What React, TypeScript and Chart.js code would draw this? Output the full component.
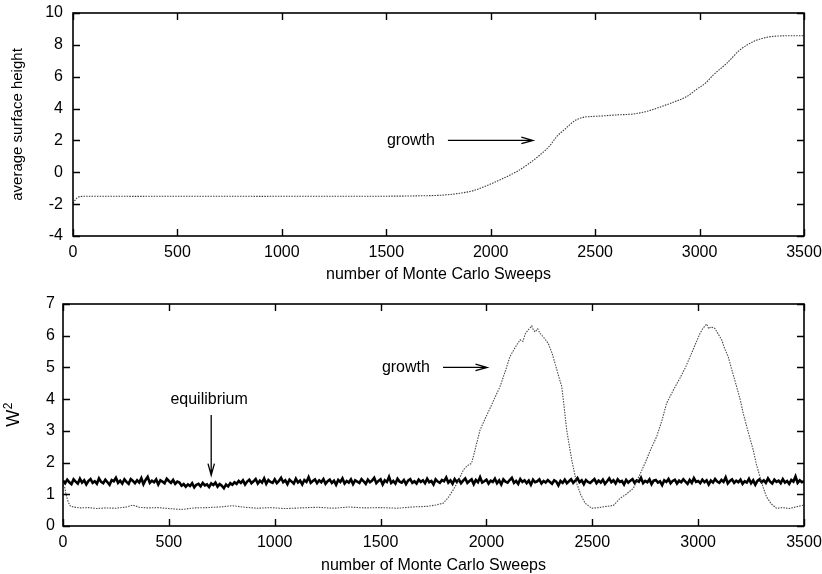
import React, { useEffect, useRef } from "react";
import { Chart, registerables } from "chart.js";

Chart.register(...registerables);

const FONT = "'Liberation Sans', Arial, Helvetica, sans-serif";

// ---- upper panel: average surface height ----
const heightSweeps = [
  0, 10, 20, 35, 100, 300, 500, 700, 900, 1100, 1300, 1500, 1650, 1773, 1850,
  1917, 1997, 2060, 2124, 2180, 2236, 2280, 2316, 2360, 2396, 2436, 2480, 2523,
  2600, 2683, 2740, 2795, 2870, 2938, 2986, 3030, 3066, 3130, 3193, 3257, 3321,
  3385, 3440, 3500,
];
const surfaceHeight = [
  -1.95, -1.75, -1.6, -1.52, -1.5, -1.51, -1.5, -1.5, -1.51, -1.5, -1.5, -1.5,
  -1.48, -1.43, -1.32, -1.15, -0.75, -0.38, 0.04, 0.52, 1.09, 1.62, 2.24, 2.76,
  3.18, 3.43, 3.5, 3.53, 3.6, 3.66, 3.8, 4.02, 4.38, 4.75, 5.21, 5.62, 6.11,
  6.84, 7.68, 8.2, 8.47, 8.56, 8.57, 8.57,
];
const heightTicks = { min: -4, max: 10, step: 2 };

// ---- lower panel: squared interface width ----
const growthSweeps = [
  0, 8, 16, 25, 35, 50, 80, 120, 160, 200, 250, 300, 330, 360, 400, 450, 500,
  560, 620, 680, 740, 800, 860, 920, 980, 1050, 1120, 1200, 1280, 1350, 1420,
  1500, 1580, 1650, 1720, 1760, 1796, 1820, 1843, 1870, 1891, 1910, 1930, 1950,
  1970, 1995, 2017, 2040, 2064, 2090, 2111, 2135, 2159, 2172, 2185, 2200, 2214,
  2222, 2230, 2242, 2253, 2270, 2292, 2310, 2324, 2340, 2356, 2368, 2379, 2391,
  2403, 2415, 2426, 2446, 2466, 2497, 2530, 2568, 2600, 2631, 2660, 2694, 2720,
  2749, 2775, 2804, 2830, 2851, 2880, 2914, 2940, 2962, 2985, 3009, 3025, 3040,
  3050, 3060, 3079, 3095, 3111, 3125, 3142, 3160, 3182, 3200, 3213, 3235, 3260,
  3275, 3292, 3308, 3323, 3345, 3370, 3400, 3430, 3460, 3500,
];
const growthWidthSq = [
  1.3, 1.22, 0.95, 0.75, 0.63, 0.6, 0.57, 0.58, 0.55, 0.57, 0.56, 0.6, 0.66,
  0.59, 0.57, 0.58, 0.55, 0.52, 0.57, 0.58, 0.6, 0.64, 0.59, 0.56, 0.58, 0.55,
  0.57, 0.59, 0.56, 0.6, 0.57, 0.58, 0.56, 0.6, 0.62, 0.66, 0.72, 0.9, 1.14,
  1.45, 1.77, 1.9, 1.98, 2.5, 3.03, 3.4, 3.71, 4.05, 4.39, 4.9, 5.34, 5.62,
  5.87, 5.82, 6.08, 6.2, 6.31, 6.18, 6.12, 6.22, 6.08, 5.95, 5.76, 5.45, 5.13,
  4.75, 4.39, 3.7, 3.03, 2.55, 2.08, 1.7, 1.35, 0.98, 0.72, 0.56, 0.58, 0.62,
  0.65, 0.87, 1.0, 1.19, 1.55, 1.98, 2.4, 2.82, 3.35, 3.87, 4.25, 4.66, 5.0,
  5.34, 5.7, 6.08, 6.25, 6.37, 6.22, 6.28, 6.23, 6.05, 5.87, 5.6, 5.34, 4.9,
  4.39, 3.95, 3.55, 3.0, 2.4, 1.95, 1.55, 1.2, 0.92, 0.7, 0.56, 0.58, 0.55,
  0.6, 0.66,
];

// equilibrium run, sampled every EQ_STEP sweeps (one row = 100 sweeps)
const EQ_STEP = 10;
const equilibriumWidthSq = [
  1.43, 1.35, 1.46, 1.38, 1.32, 1.47, 1.4, 1.34, 1.49, 1.37,
  1.44, 1.31, 1.42, 1.48, 1.36, 1.41, 1.33, 1.5, 1.39, 1.35,
  1.46, 1.38, 1.3, 1.45, 1.41, 1.52, 1.36, 1.43, 1.34, 1.47,
  1.39, 1.33, 1.48, 1.42, 1.35, 1.44, 1.37, 1.51, 1.32, 1.45,
  1.55, 1.36, 1.43, 1.38, 1.47, 1.31, 1.44, 1.4, 1.35, 1.49,
  1.42, 1.36, 1.45, 1.33, 1.4, 1.37, 1.27, 1.32, 1.24, 1.31,
  1.26, 1.35, 1.22, 1.3, 1.33, 1.25, 1.36, 1.28, 1.31, 1.23,
  1.34, 1.29, 1.37, 1.24, 1.32, 1.27, 1.19, 1.31, 1.25, 1.35,
  1.3, 1.38, 1.33, 1.42, 1.36, 1.44, 1.31, 1.4, 1.46, 1.35,
  1.41, 1.48, 1.34, 1.43, 1.37, 1.5, 1.33, 1.45, 1.39, 1.36,
  1.47, 1.35, 1.42, 1.52, 1.38, 1.44, 1.32, 1.46, 1.4, 1.34,
  1.49, 1.37, 1.43, 1.31, 1.45, 1.39, 1.54, 1.36, 1.42, 1.47,
  1.35, 1.44, 1.38, 1.48, 1.33, 1.41, 1.46, 1.36, 1.43, 1.3,
  1.45, 1.39, 1.5, 1.34, 1.42, 1.37, 1.47, 1.32, 1.44, 1.4,
  1.36, 1.48, 1.41, 1.33, 1.46, 1.38, 1.43, 1.52, 1.35, 1.42,
  1.47, 1.31, 1.44, 1.39, 1.55, 1.36, 1.42, 1.34, 1.49, 1.4,
  1.37, 1.45, 1.32, 1.43, 1.48, 1.36, 1.41, 1.34, 1.46, 1.39,
  1.44, 1.35, 1.49, 1.38, 1.42, 1.31, 1.47, 1.4, 1.36, 1.45,
  1.41, 1.53, 1.37, 1.44, 1.33, 1.48, 1.39, 1.46, 1.35, 1.43,
  1.5, 1.36, 1.42, 1.47, 1.32, 1.45, 1.38, 1.54, 1.37, 1.41,
  1.46, 1.34, 1.43, 1.39, 1.49, 1.35, 1.44, 1.31, 1.47, 1.4,
  1.37, 1.45, 1.52, 1.36, 1.42, 1.33, 1.48, 1.39, 1.44, 1.35,
  1.43, 1.3, 1.46, 1.38, 1.41, 1.47, 1.34, 1.42, 1.37, 1.45,
  1.39, 1.33, 1.44, 1.4, 1.28, 1.42, 1.36, 1.46, 1.35, 1.41,
  1.47, 1.36, 1.43, 1.51, 1.38, 1.44, 1.32, 1.45, 1.39, 1.36,
  1.42, 1.48, 1.35, 1.43, 1.37, 1.46, 1.33, 1.41, 1.5, 1.38,
  1.44, 1.34, 1.47, 1.39, 1.42, 1.31, 1.45, 1.37, 1.43, 1.48,
  1.36, 1.44, 1.4, 1.52, 1.35, 1.42, 1.38, 1.47, 1.32, 1.43,
  1.45, 1.37, 1.41, 1.29, 1.44, 1.39, 1.48, 1.35, 1.42, 1.46,
  1.34, 1.43, 1.38, 1.47, 1.4, 1.33, 1.45, 1.36, 1.51, 1.39,
  1.42, 1.35, 1.46, 1.38, 1.44, 1.31, 1.43, 1.37, 1.48, 1.4,
  1.36, 1.45, 1.39, 1.53, 1.34, 1.42, 1.47, 1.36, 1.43, 1.38,
  1.46, 1.33, 1.41, 1.37, 1.49, 1.35, 1.44, 1.3, 1.42, 1.47,
  1.38, 1.44, 1.36, 1.5, 1.4, 1.34, 1.46, 1.39, 1.43, 1.35,
  1.48, 1.37, 1.42, 1.33, 1.45, 1.4, 1.56, 1.36, 1.44, 1.38,
  1.41,
];
const widthTicks = { min: 0, max: 7, step: 1 };

const sweepTicks = { min: 0, max: 3500, step: 500 };

const X_TITLE = "number of Monte Carlo Sweeps";
const HEIGHT_TITLE = "average surface height";
const WIDTH_BASE = "W";
const WIDTH_EXP = "2";

type Note = {
  text?: string;
  tx?: number;
  ty?: number;
  align?: CanvasTextAlign;
  from?: [number, number];
  to?: [number, number];
};

const upperNotes: Note[] = [
  { text: "growth", tx: 1733, ty: 2, align: "right", from: [1795, 2], to: [2202, 2] },
];
const lowerNotes: Note[] = [
  { text: "growth", tx: 1733, ty: 5, align: "right", from: [1795, 5], to: [2003, 5] },
  { text: "equilibrium", tx: 690, ty: 4, align: "center", from: [700, 3.5], to: [700, 1.6] },
];

// Closed frame with inward tick marks on all four sides
const frameTicks = {
  id: "frameTicks",
  afterDatasetsDraw(chart: any) {
    const { ctx, chartArea: a, scales } = chart;
    const len = 7;
    ctx.save();
    ctx.strokeStyle = "#000";
    ctx.lineWidth = 1.6;
    ctx.strokeRect(a.left, a.top, a.right - a.left, a.bottom - a.top);
    ctx.lineWidth = 1.4;
    ctx.beginPath();
    scales.x.ticks.forEach((t: any) => {
      const px = Math.round(scales.x.getPixelForValue(t.value)) + 0.5;
      ctx.moveTo(px, a.bottom);
      ctx.lineTo(px, a.bottom - len);
      ctx.moveTo(px, a.top);
      ctx.lineTo(px, a.top + len);
    });
    scales.y.ticks.forEach((t: any) => {
      const py = Math.round(scales.y.getPixelForValue(t.value)) + 0.5;
      ctx.moveTo(a.left, py);
      ctx.lineTo(a.left + len, py);
      ctx.moveTo(a.right, py);
      ctx.lineTo(a.right - len, py);
    });
    ctx.stroke();
    ctx.restore();
  },
};

// Text notes with open-headed arrows, placed in data coordinates
const arrowNotes = {
  id: "arrowNotes",
  afterDatasetsDraw(chart: any, _args: any, opts: any) {
    const notes: Note[] = (opts && opts.notes) || [];
    const { ctx, scales } = chart;
    const X = (v: number) => scales.x.getPixelForValue(v);
    const Y = (v: number) => scales.y.getPixelForValue(v);
    ctx.save();
    ctx.fillStyle = "#000";
    ctx.strokeStyle = "#000";
    ctx.lineWidth = 1.3;
    ctx.font = `16px ${FONT}`;
    ctx.textBaseline = "middle";
    notes.forEach((n) => {
      if (n.text !== undefined) {
        ctx.textAlign = n.align || "left";
        ctx.fillText(n.text, X(n.tx!), Y(n.ty!));
      }
      if (n.from && n.to) {
        const x1 = X(n.from[0]);
        const y1 = Y(n.from[1]);
        const x2 = X(n.to[0]);
        const y2 = Y(n.to[1]);
        const ang = Math.atan2(y2 - y1, x2 - x1);
        const head = 12;
        const spread = 0.27;
        ctx.beginPath();
        ctx.moveTo(x1, y1);
        ctx.lineTo(x2, y2);
        ctx.moveTo(x2 - head * Math.cos(ang - spread), y2 - head * Math.sin(ang - spread));
        ctx.lineTo(x2, y2);
        ctx.lineTo(x2 - head * Math.cos(ang + spread), y2 - head * Math.sin(ang + spread));
        ctx.stroke();
      }
    });
    ctx.restore();
  },
};

// Rotated "W" with a raised exponent for the lower panel's value axis
const powerTitle = {
  id: "powerTitle",
  afterDraw(chart: any, _args: any, opts: any) {
    if (!opts || !opts.base) return;
    const { ctx, chartArea: a } = chart;
    ctx.save();
    ctx.translate(opts.x, (a.top + a.bottom) / 2);
    ctx.rotate(-Math.PI / 2);
    ctx.fillStyle = "#000";
    ctx.textBaseline = "alphabetic";
    ctx.textAlign = "left";
    ctx.font = `18px ${FONT}`;
    const wBase = ctx.measureText(opts.base).width;
    ctx.font = `12px ${FONT}`;
    const wExp = ctx.measureText(opts.exp).width;
    const x0 = -(wBase + wExp) / 2;
    ctx.font = `18px ${FONT}`;
    ctx.fillText(opts.base, x0, 6.4);
    ctx.font = `12px ${FONT}`;
    ctx.fillText(opts.exp, x0 + wBase + 0.5, -0.8);
    ctx.restore();
  },
};

function axes(opts: {
  yTicks: { min: number; max: number; step: number };
  yTitle: string;
  yTitleSize: number;
  yTitlePad: number;
  yWidth: number;
  yTickPad: number;
  xHeight: number;
  xTitlePad: number;
}) {
  const tickFont = { family: FONT, size: 16 };
  const plain = (v: any) => String(v);
  return {
    x: {
      type: "linear" as const,
      min: sweepTicks.min,
      max: sweepTicks.max,
      afterFit: (s: any) => {
        s.height = opts.xHeight;
        s.paddingLeft = 0;
        s.paddingRight = 0;
      },
      grid: { display: false, drawTicks: false },
      border: { display: false },
      ticks: {
        stepSize: sweepTicks.step,
        padding: 7,
        color: "#000",
        font: tickFont,
        maxRotation: 0,
        autoSkip: false,
        callback: plain,
      },
      title: {
        display: true,
        text: X_TITLE,
        color: "#000",
        font: { family: FONT, size: 16, lineHeight: 1 },
        padding: { top: 0, bottom: opts.xTitlePad },
      },
    },
    y: {
      type: "linear" as const,
      min: opts.yTicks.min,
      max: opts.yTicks.max,
      afterFit: (s: any) => {
        s.width = opts.yWidth;
        s.paddingTop = 0;
        s.paddingBottom = 0;
      },
      grid: { display: false, drawTicks: false },
      border: { display: false },
      ticks: {
        stepSize: opts.yTicks.step,
        padding: opts.yTickPad,
        color: "#000",
        font: tickFont,
        autoSkip: false,
        callback: plain,
      },
      title: {
        display: opts.yTitle !== "",
        text: opts.yTitle,
        color: "#000",
        font: { family: FONT, size: opts.yTitleSize, lineHeight: 1 },
        padding: { top: opts.yTitlePad, bottom: 0 },
      },
    },
  };
}

const W = 822;
const H = 287;

function HeightPanel() {
  const ref = useRef<HTMLCanvasElement>(null);
  useEffect(() => {
    if (!ref.current) return;
    const chart = new Chart(ref.current, {
      type: "line",
      data: {
        datasets: [
          {
            data: heightSweeps.map((s, i) => ({ x: s, y: surfaceHeight[i] })),
            borderColor: "#3a3a3a",
            borderWidth: 1.1,
            borderDash: [1.5, 1.2],
            pointRadius: 0,
            cubicInterpolationMode: "monotone",
            fill: false,
          },
        ],
      },
      options: {
        animation: false,
        responsive: false,
        events: [],
        layout: { padding: { top: 13, right: 18, left: 0, bottom: 0 } },
        plugins: {
          legend: { display: false },
          tooltip: { enabled: false },
          arrowNotes: { notes: upperNotes },
        } as any,
        scales: axes({
          yTicks: heightTicks,
          yTitle: HEIGHT_TITLE,
          yTitleSize: 15,
          yTitlePad: 10,
          yWidth: 73,
          yTickPad: 10,
          xHeight: 51,
          xTitlePad: 4,
        }) as any,
      },
      plugins: [frameTicks, arrowNotes],
    });
    return () => chart.destroy();
  }, []);
  return <canvas ref={ref} width={W} height={H} style={{ display: "block" }} />;
}

function WidthPanel() {
  const ref = useRef<HTMLCanvasElement>(null);
  useEffect(() => {
    if (!ref.current) return;
    const chart = new Chart(ref.current, {
      type: "line",
      data: {
        datasets: [
          {
            data: growthSweeps.map((s, i) => ({ x: s, y: growthWidthSq[i] })),
            borderColor: "#4a4a4a",
            borderWidth: 1.1,
            borderDash: [1.5, 1.2],
            pointRadius: 0,
            fill: false,
          },
          {
            data: equilibriumWidthSq.map((v, i) => ({ x: i * EQ_STEP, y: v })),
            borderColor: "#000",
            borderWidth: 2.6,
            pointRadius: 0,
            fill: false,
          },
        ],
      },
      options: {
        animation: false,
        responsive: false,
        events: [],
        layout: { padding: { top: 17, right: 18, left: 0, bottom: 0 } },
        plugins: {
          legend: { display: false },
          tooltip: { enabled: false },
          arrowNotes: { notes: lowerNotes },
          powerTitle: { base: WIDTH_BASE, exp: WIDTH_EXP, x: 13 },
        } as any,
        scales: axes({
          yTicks: widthTicks,
          yTitle: "",
          yTitleSize: 18,
          yTitlePad: 4,
          yWidth: 63,
          yTickPad: 8,
          xHeight: 48,
          xTitlePad: 0,
        }) as any,
      },
      plugins: [frameTicks, arrowNotes, powerTitle],
    });
    return () => chart.destroy();
  }, []);
  return <canvas ref={ref} width={W} height={H} style={{ display: "block" }} />;
}

export default function App() {
  return (
    <div
      style={{
        position: "absolute",
        left: 0,
        top: 0,
        width: W,
        height: 2 * H,
        background: "#fff",
      }}
    >
      <HeightPanel />
      <WidthPanel />
    </div>
  );
}
